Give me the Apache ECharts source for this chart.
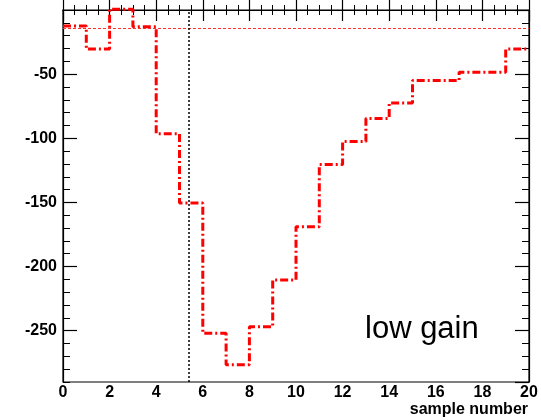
<!DOCTYPE html>
<html>
<head>
<meta charset="utf-8">
<script src="https://cdn.jsdelivr.net/npm/echarts@6/dist/echarts.min.js"></script>
<style>
html,body{margin:0;padding:0;background:#fff;}
#c{width:541px;height:420px;}
</style>
</head>
<body>
<div id="c"></div>
<script>
// ---- data ----
var samples = [0,1,2,3,4,5,6,7,8,9,10,11,12,13,14,15,16,17,18,19];
var amplitude = [-12.5,-30.5,0.5,-13,-96.5,-150.5,-252,-276.5,-247,-210.5,-169,-120.5,-102.5,-84.5,-72.5,-55,-55,-48.5,-48.5,-30.5];
var pedestal = -14.5;      // red dashed horizontal level
var peakTime = 5.41;       // black dotted vertical marker
var xTicks = [0,2,4,6,8,10,12,14,16,18,20];
var yTicks = [-250,-200,-150,-100,-50];
var xTitle = 'sample number';
var label = 'low gain';

// histogram-like step points: each bin from i to i+1
var stepData = samples.map(function(s,i){ return [s, amplitude[i]]; });
stepData.push([samples[samples.length-1] + 1, amplitude[amplitude.length-1]]);

var FONT = '"Liberation Sans", Arial, sans-serif';
var axisLbl = {color:'#000', fontFamily:FONT, fontSize:16, fontWeight:'bold'};

function xAx(pos, showLabel){
  return {
    type:'value', position:pos, min:xTicks[0], max:xTicks[xTicks.length-1], interval:2,
    axisLine:{show:true, lineStyle:{color:'#000', width:1.2}},
    axisTick:{show:true, inside:true, length:11, lineStyle:{color:'#000', width:1.2}},
    minorTick:{show:true, splitNumber:4, length:5, lineStyle:{color:'#000', width:1}},
    splitLine:{show:false}, minorSplitLine:{show:false},
    axisLabel:Object.assign({show:showLabel, margin:3}, axisLbl)
  };
}
function yMajor(pos, showLabel){
  return {
    type:'value', position:pos, min:-290, max:0, splitNumber:5,
    axisLine:{show:true, lineStyle:{color:'#000', width:1.2}},
    axisTick:{show:true, inside:true, length:14, lineStyle:{color:'#000', width:1.2}},
    splitLine:{show:false},
    axisLabel:Object.assign({show:showLabel, margin:6, showMinLabel:false, showMaxLabel:false,
      formatter:function(v){ return yTicks.indexOf(v) >= 0 ? String(v) : ''; }}, axisLbl)
  };
}
function yMinor(pos){
  return {
    type:'value', position:pos, min:-290, max:0, interval:10,
    axisLine:{show:false},
    axisTick:{show:true, inside:true, length:7, lineStyle:{color:'#000', width:1}},
    splitLine:{show:false}, axisLabel:{show:false}
  };
}

var chart = echarts.init(document.getElementById('c'), null, {renderer:'canvas'});
chart.setOption({
  animation:false,
  backgroundColor:'#fff',
  grid:{left:63, right:12, top:10, bottom:38, show:true, borderColor:'#000', borderWidth:1.2},
  xAxis:[xAx('bottom', true), xAx('top', false)],
  yAxis:[yMajor('left', true), yMinor('left'), yMajor('right', false), yMinor('right')],
  series:[{
    type:'line', xAxisIndex:0, yAxisIndex:0,
    data:stepData, step:'end', symbol:'none', clip:false,
    lineStyle:{color:'#ff0000', width:3, type:[8,3,2,3]},
    markLine:{
      silent:true, symbol:'none', label:{show:false},
      data:[
        {yAxis:pedestal, lineStyle:{color:'#ff3030', width:1, type:[3,2]}},
        {xAxis:peakTime, lineStyle:{color:'#000', width:1.5, type:[2,2]}}
      ]
    }
  }],
  graphic:[{
    type:'text', x:365, y:329,
    style:{text:label, fill:'#000', font:'31px "Liberation Sans", Arial, sans-serif', textAlign:'left', textVerticalAlign:'middle'}
  },{
    type:'text', x:528, y:410,
    style:{text:xTitle, fill:'#000', font:'bold 16px "Liberation Sans", Arial, sans-serif', textAlign:'right', textVerticalAlign:'middle'}
  }]
});
</script>
</body>
</html>
